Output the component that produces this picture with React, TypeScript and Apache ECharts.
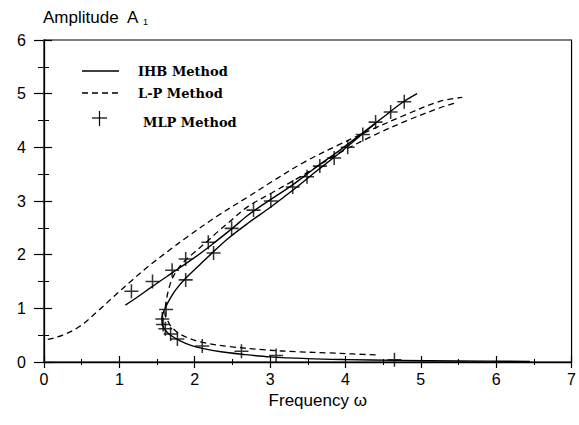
import React, { useEffect, useRef } from "react";
import * as echarts from "echarts";

// ---- data ----
const xTicks = [0, 1, 2, 3, 4, 5, 6, 7];
const yTicks = [0, 1, 2, 3, 4, 5, 6];

// IHB method (solid): upper branch
const ihbUpper: number[][] = [
  [1.08, 1.06], [1.25, 1.22], [1.44, 1.41], [1.7, 1.66], [1.92, 1.87], [2.1, 2.05],
  [2.23, 2.19], [2.49, 2.48], [2.71, 2.74], [3.0, 3.02], [3.3, 3.3], [3.6, 3.62],
  [3.9, 3.92], [4.2, 4.24], [4.5, 4.56], [4.75, 4.83], [4.95, 5.0],
];
// IHB method (solid): middle + lower branch
const ihbLower: number[][] = [
  [4.4, 4.45], [4.2, 4.22], [3.9, 3.87], [3.6, 3.54], [3.3, 3.2], [3.0, 2.88],
  [2.71, 2.59], [2.45, 2.31], [2.23, 2.03], [2.05, 1.79], [1.88, 1.56], [1.75, 1.35],
  [1.66, 1.15], [1.6, 0.98], [1.565, 0.82], [1.58, 0.66], [1.63, 0.56], [1.7, 0.48],
  [1.8, 0.4], [1.95, 0.31], [2.1, 0.255], [2.35, 0.19], [2.62, 0.145], [3.0, 0.095],
  [3.5, 0.062], [4.0, 0.045], [4.7, 0.03], [5.5, 0.02], [6.45, 0.01],
];
// L-P method (dashed): upper branch
const lpUpper: number[][] = [
  [0.05, 0.42], [0.25, 0.5], [0.47, 0.66], [0.7, 0.93], [0.91, 1.2], [1.15, 1.5],
  [1.4, 1.8], [1.65, 2.07], [1.9, 2.33], [2.3, 2.72], [2.71, 3.08], [3.0, 3.34],
  [3.46, 3.73], [3.9, 4.04], [4.3, 4.3], [4.82, 4.62], [5.26, 4.86], [5.55, 4.93],
];
// L-P method (dashed): middle + lower branch
const lpLower: number[][] = [
  [5.44, 4.82], [5.26, 4.74], [4.82, 4.5], [4.34, 4.2], [3.9, 3.88], [3.46, 3.5],
  [3.02, 3.15], [2.71, 2.9], [2.45, 2.6], [2.3, 2.42], [2.15, 2.23], [2.0, 2.05],
  [1.88, 1.9], [1.78, 1.74], [1.7, 1.55], [1.65, 1.33], [1.62, 1.12], [1.605, 0.93],
  [1.61, 0.85], [1.64, 0.77], [1.7, 0.64], [1.83, 0.5], [2.09, 0.37], [2.45, 0.29],
  [2.94, 0.225], [3.37, 0.19], [3.77, 0.17], [4.1, 0.15], [4.43, 0.13],
];
// MLP method (+ markers)
const mlpPoints: number[][] = [
  [1.16, 1.32], [1.44, 1.5], [1.7, 1.71], [1.88, 1.92], [2.18, 2.23], [2.49, 2.49],
  [2.78, 2.83], [3.01, 3.0], [3.3, 3.26], [3.49, 3.45], [3.66, 3.65], [3.85, 3.8],
  [4.03, 4.0], [4.23, 4.24], [4.4, 4.47], [4.6, 4.66], [4.78, 4.85],
  [2.25, 2.03], [1.88, 1.53], [1.62, 0.98], [1.57, 0.8], [1.58, 0.7], [1.61, 0.62],
  [1.68, 0.52], [1.77, 0.43], [2.1, 0.3], [2.62, 0.2], [3.08, 0.12], [4.65, 0.04],
];

const seriesNames = ["IHB Method", "L-P Method", "MLP Method"];
const xTitle = "Frequency ω";
const yTitle = "Amplitude  A";

const CROSS = "path://M0,4.45H10V5.55H0Z M4.45,0H5.55V10H4.45Z";

export default function App() {
  const ref = useRef<HTMLDivElement>(null);
  useEffect(() => {
    document.body.style.margin = "0";
    if (!ref.current) return;
    const chart = echarts.init(ref.current, undefined, { renderer: "svg" });
    const axisFont = { fontFamily: "Liberation Sans", fontSize: 16, color: "#000" };
    const lineBase = { type: "line", symbol: "none", smooth: 0.35, xAxisIndex: 0, yAxisIndex: 0, z: 3 };
    const legendText = { fontFamily: "DejaVu Serif", fontWeight: "bold", fontSize: 13, fill: "#000", verticalAlign: "middle" };
    chart.setOption({
      animation: false,
      backgroundColor: "#fff",
      grid: { left: 44, right: 4, top: 40, bottom: 63, show: true, borderColor: "#000", borderWidth: 1.2 },
      xAxis: [
        {
          type: "value", min: xTicks[0], max: xTicks[xTicks.length - 1], interval: 1,
          axisLine: { show: true, lineStyle: { color: "#000", width: 1.3 } },
          axisTick: { show: true, inside: false, length: 6, lineStyle: { color: "#000", width: 1.2 } },
          minorTick: { show: true, splitNumber: 2, length: 3, lineStyle: { color: "#000", width: 1 } },
          axisLabel: { ...axisFont, margin: 9 },
          splitLine: { show: false },
          name: xTitle, nameLocation: "middle", nameGap: 30,
          nameTextStyle: { fontFamily: "Liberation Sans", fontSize: 17, color: "#000", padding: [0, 0, 0, 20] },
        },
        {
          type: "value", min: xTicks[0], max: xTicks[xTicks.length - 1], interval: 1, position: "bottom",
          axisLine: { show: false },
          axisTick: { show: true, inside: true, length: 6, lineStyle: { color: "#000", width: 1.2 } },
          minorTick: { show: true, splitNumber: 2, length: 3, lineStyle: { color: "#000", width: 1 } },
          axisLabel: { show: false }, splitLine: { show: false },
        },
      ],
      yAxis: [
        {
          type: "value", min: yTicks[0], max: yTicks[yTicks.length - 1], interval: 1,
          axisLine: { show: true, lineStyle: { color: "#000", width: 1.3 } },
          axisTick: { show: true, inside: false, length: 10, lineStyle: { color: "#000", width: 1.2 } },
          minorTick: { show: true, splitNumber: 2, length: 6, lineStyle: { color: "#000", width: 1 } },
          axisLabel: { ...axisFont, margin: 18 },
          splitLine: { show: false },
        },
        {
          type: "value", min: yTicks[0], max: yTicks[yTicks.length - 1], interval: 1, position: "left",
          axisLine: { show: false },
          axisTick: { show: true, inside: true, length: 8, lineStyle: { color: "#000", width: 1.2 } },
          minorTick: { show: true, splitNumber: 2, length: 5, lineStyle: { color: "#000", width: 1 } },
          axisLabel: { show: false }, splitLine: { show: false },
        },
      ],
      series: [
        { ...lineBase, name: seriesNames[0], data: ihbUpper, lineStyle: { color: "#000", width: 1.4 } },
        { ...lineBase, name: seriesNames[0], data: ihbLower, lineStyle: { color: "#000", width: 1.4 } },
        { ...lineBase, name: seriesNames[1], data: lpUpper, lineStyle: { color: "#000", width: 1.3, type: [6, 4] } },
        { ...lineBase, name: seriesNames[1], data: lpLower, lineStyle: { color: "#000", width: 1.3, type: [6, 4] } },
        {
          type: "scatter", name: seriesNames[2], data: mlpPoints, symbol: CROSS, symbolSize: 14,
          itemStyle: { color: "#000" }, xAxisIndex: 0, yAxisIndex: 0, z: 4,
        },
      ],
      graphic: [
        { type: "line", shape: { x1: 82, y1: 71, x2: 119, y2: 71 }, style: { stroke: "#000", lineWidth: 1.4 } },
        { type: "text", style: { ...legendText, text: seriesNames[0], x: 138, y: 71 } },
        { type: "line", shape: { x1: 82, y1: 93, x2: 119, y2: 93 }, style: { stroke: "#000", lineWidth: 1.3, lineDash: [6, 4] } },
        { type: "text", style: { ...legendText, text: seriesNames[1], x: 138, y: 93 } },
        { type: "line", shape: { x1: 92, y1: 118, x2: 107, y2: 118 }, style: { stroke: "#000", lineWidth: 1.2 } },
        { type: "line", shape: { x1: 99.5, y1: 111, x2: 99.5, y2: 126 }, style: { stroke: "#000", lineWidth: 1.2 } },
        { type: "text", style: { ...legendText, text: seriesNames[2], x: 143, y: 122 } },
        { type: "text", style: { text: yTitle, x: 43, y: 17, fontFamily: "Liberation Sans", fontSize: 17, fill: "#000", verticalAlign: "middle" } },
        { type: "text", style: { text: "1", x: 143, y: 22, fontFamily: "Liberation Sans", fontSize: 9, fill: "#000", verticalAlign: "middle" } },
      ],
    });
    return () => chart.dispose();
  }, []);
  return <div ref={ref} style={{ position: "absolute", left: 0, top: 0, width: 579, height: 425 }} />;
}
